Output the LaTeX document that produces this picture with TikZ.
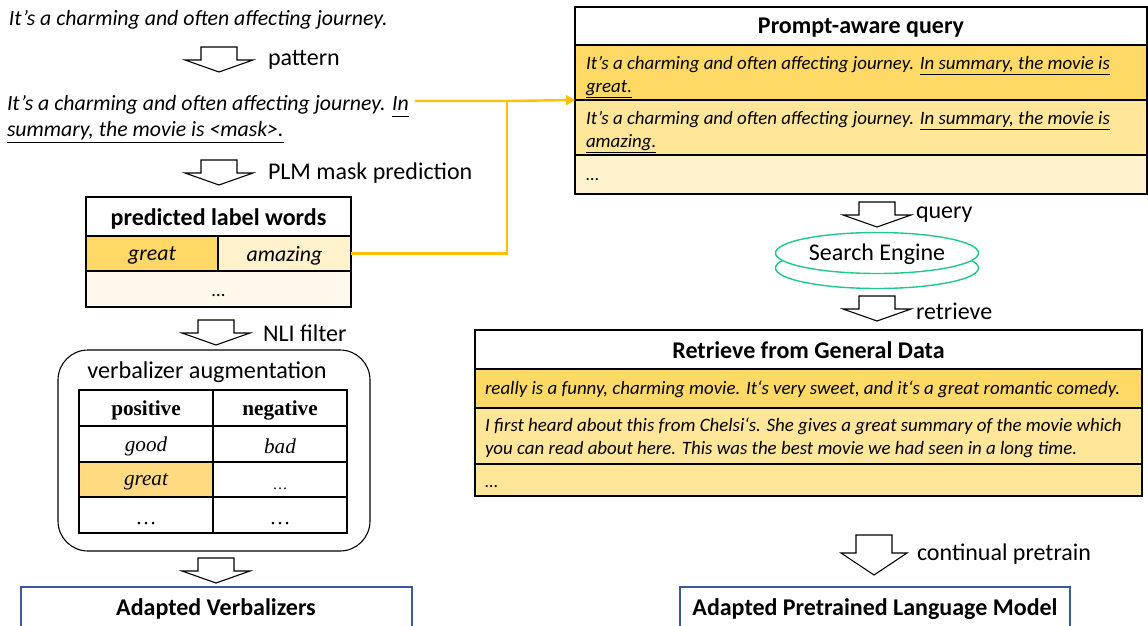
\documentclass[tikz,border=0pt]{standalone}
\usepackage{fontspec}
\setmainfont{Carlito}
\newfontfamily\tnr{Liberation Serif}
\usetikzlibrary{arrows.meta,calc,shapes.geometric}
\newcommand\myul[1]{\underline{#1\vphantom{gy}}}
\definecolor{ydark}{HTML}{FFD966}
\definecolor{ymid}{HTML}{FFE699}
\definecolor{ylight}{HTML}{FFF2CC}
\definecolor{ycream}{HTML}{FFF9EC}
\definecolor{ygreat}{HTML}{FFDA80}
\definecolor{oline}{HTML}{FFC000}
\definecolor{bluebox}{HTML}{3C5A9A}
\definecolor{seng}{HTML}{1FC98A}
\tikzset{
  every node/.style={inner sep=0pt, outer sep=0pt},
  cellbox/.style={draw=black, line width=1.1pt, anchor=north west},
  lbl/.style={anchor=west, font=\fontsize{24}{28}\selectfont},
  itx/.style={anchor=west, font=\fontsize{21.8}{26}\selectfont\itshape},
  rowtx/.style={anchor=west, align=left, font=\fontsize{18.9}{23}\selectfont\itshape},
  hdrtx/.style={font=\fontsize{24}{28}\selectfont\bfseries},
  cellit/.style={font=\fontsize{21.8}{26}\selectfont\itshape},
  serifb/.style={font=\fontsize{21.2}{25}\selectfont\tnr\bfseries},
  serifi/.style={font=\fontsize{21.2}{25}\selectfont\tnr\itshape},
  dotsans/.style={anchor=base, font=\fontsize{18}{22}\selectfont},
  dotserif/.style={anchor=base, font=\fontsize{21}{24}\selectfont\tnr},
  oconn/.style={draw=oline, line width=2.4pt},
  pics/blockarrow/.style={code={
    \draw[line width=1.1pt, fill=white, line join=miter]
      (-18,0) -- (18,0) -- (18,13) -- (34,13) -- (0,25) -- (-34,13) -- (-18,13) -- cycle;}},
  pics/bigblockarrow/.style={code={
    \draw[line width=1.1pt, fill=white, line join=miter]
      (-18,0) -- (18,0) -- (18,18) -- (33,18) -- (0,40) -- (-33,18) -- (-18,18) -- cycle;}}
}
\begin{document}
\begin{tikzpicture}[x=1pt,y=-1pt]
\path[use as bounding box, clip] (0,0) rectangle (1148,626);

% ---------- left column ----------
\node[itx] (s1) at (9,20) {It’s a charming and often affecting journey.};
\pic at (219,47) {blockarrow};
\node[lbl] (l1) at (268,60) {pattern};

\node[itx] (s2a) at (7,106) {It’s a charming and often affecting journey. \myul{In}};
\node[itx] (s2b) at (7,132) {\myul{summary, the movie is <mask>.}};
\pic at (219,160) {blockarrow};
\node[lbl] (l2) at (268,173) {PLM mask prediction};

% predicted label words table
\node[cellbox, fill=white, minimum width=265pt, minimum height=39pt] (plh) at (86,197) {};
\node[hdrtx] at ([yshift=-2pt]plh.center) {predicted label words};
\node[cellbox, fill=ydark, minimum width=132pt, minimum height=35pt] (pgreat) at (86,236) {};
\node[cellit] at ([yshift=-2pt]pgreat.center) {great};
\node[cellbox, fill=ylight, minimum width=133pt, minimum height=35pt] (pamaz) at (218,236) {};
\node[cellit] at ([yshift=-2pt]pamaz.center) {amazing};
\node[cellbox, fill=ycream, minimum width=265pt, minimum height=36pt] (pdots) at (86,271) {};
\node[dotsans, font=\fontsize{19}{22}\selectfont] at (pdots.center |- 0,296) {…};

\pic at (216,320) {blockarrow};
\node[lbl] (l3) at (263,333) {NLI filter};

% verbalizer augmentation
\draw[line width=1.1pt, rounded corners=30pt] (58,350) rectangle (370,551);
\node[font=\fontsize{24.2}{28}\selectfont] (va) at (207,372) {verbalizer augmentation};
\node[cellbox, minimum width=134pt, minimum height=36pt] (t11) at (79,390) {};
\node[cellbox, minimum width=134pt, minimum height=36pt] (t12) at (213,390) {};
\node[cellbox, minimum width=134pt, minimum height=36pt] (t21) at (79,426) {};
\node[cellbox, minimum width=134pt, minimum height=36pt] (t22) at (213,426) {};
\node[cellbox, fill=ygreat, minimum width=134pt, minimum height=35pt] (t31) at (79,462) {};
\node[cellbox, minimum width=134pt, minimum height=35pt] (t32) at (213,462) {};
\node[cellbox, minimum width=134pt, minimum height=36pt] (t41) at (79,497) {};
\node[cellbox, minimum width=134pt, minimum height=36pt] (t42) at (213,497) {};
\node[serifb] at ([yshift=-2pt]t11.center) {positive};
\node[serifb] at ([yshift=-2pt]t12.center) {negative};
\node[serifi] at ([yshift=-2pt]t21.center) {good};
\node[serifi] at ([yshift=-2pt]t22.center) {bad};
\node[serifi] at ([yshift=-2pt]t31.center) {great};
\node[dotserif, font=\fontsize{15}{18}\selectfont\tnr] at (t32.center |- 0,489) {…};
\node[dotserif] at (t41.center |- 0,524) {…};
\node[dotserif] at (t42.center |- 0,524) {…};

\pic at (216,558) {blockarrow};
\node[draw=bluebox, line width=1.1pt, anchor=north west, minimum width=391pt, minimum height=50pt] (av) at (21,587) {};
\node[hdrtx] at (216,609) {Adapted Verbalizers};

% ---------- right column ----------
\node[cellbox, fill=white, minimum width=572pt, minimum height=38pt] (pqh) at (575,7) {};
\node[hdrtx] at ([yshift=-2pt]pqh.center) {Prompt-aware query};
\node[cellbox, fill=ydark, minimum width=572pt, minimum height=55pt] (pq1) at (575,45) {};
\node[rowtx] at (586,77) {It’s a charming and often affecting journey. \myul{In summary, the movie is}\\\myul{great.}};
\node[cellbox, fill=ymid, minimum width=572pt, minimum height=55pt] (pq2) at (575,100) {};
\node[rowtx] at (586,132) {It’s a charming and often affecting journey. \myul{In summary, the movie is}\\\myul{amazing.}};
\node[cellbox, fill=ylight, minimum width=572pt, minimum height=39pt] (pq3) at (575,155) {};
\node[dotsans, anchor=base west] at (586,180) {…};

\pic at (877,202) {blockarrow};
\node[lbl] (l4) at (916,215) {query};

% search engine
\draw[draw=seng, line width=1.4pt, fill=white] (877,268) ellipse [x radius=101.5pt, y radius=20.5pt];
\node[draw=seng, line width=1.4pt, fill=white, ellipse, minimum width=203pt, minimum height=41pt] (se) at (877,253) {};
\node[font=\fontsize{24}{28}\selectfont] at (877,254) {Search Engine};

\pic at (877,296) {blockarrow};
\node[lbl] (l5) at (916,311) {retrieve};

% retrieve box
\node[cellbox, fill=white, minimum width=667pt, minimum height=39pt] (rgh) at (475,330) {};
\node[hdrtx] at ([yshift=-1pt]rgh.center) {Retrieve from General Data};
\node[cellbox, fill=ydark, minimum width=667pt, minimum height=39pt] (rg1) at (475,369) {};
\node[rowtx] at (485,389) {really is a funny, charming movie. It‘s very sweet, and it‘s a great romantic comedy.};
\node[cellbox, fill=ymid, minimum width=667pt, minimum height=56pt] (rg2) at (475,408) {};
\node[rowtx] at (485,438) {I first heard about this from Chelsi‘s. She gives a great summary of the movie which\\you can read about here. This was the best movie we had seen in a long time.};
\node[cellbox, fill=ymid, minimum width=667pt, minimum height=32pt] (rg3) at (475,464) {};
\node[dotsans, anchor=base west] at (485,487) {…};

\pic at (874,535) {bigblockarrow};
\node[lbl] (l6) at (917,554) {continual pretrain};

\node[draw=bluebox, line width=1.1pt, anchor=north west, minimum width=390pt, minimum height=50pt] (apl) at (680,587) {};
\node[hdrtx] at (875,609) {Adapted Pretrained Language Model};

% ---------- orange connectors ----------
\coordinate (jn) at (507,101);
\draw[oconn, -{Triangle[length=9pt,width=10pt]}] ([xshift=6pt]s2a.east |- jn) -- (jn) -- (pq1.south west);
\draw[oconn] (pamaz.east) -| (jn);
\end{tikzpicture}
\end{document}
